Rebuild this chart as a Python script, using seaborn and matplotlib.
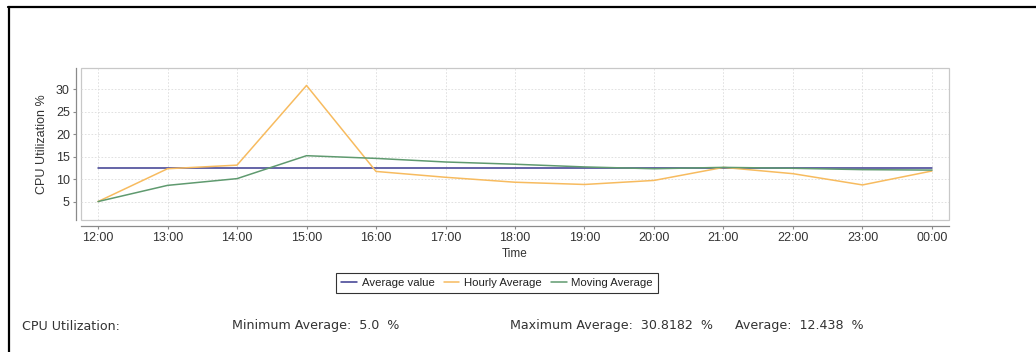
import numpy as np
import pandas as pd
import matplotlib
matplotlib.use("Agg")
import matplotlib.pyplot as plt
from matplotlib.lines import Line2D
from matplotlib.patches import Rectangle
import seaborn as sns

# ---- data ----
times = ["12:00", "13:00", "14:00", "15:00", "16:00", "17:00", "18:00",
         "19:00", "20:00", "21:00", "22:00", "23:00", "00:00"]
hourly_avg = [5.0, 12.3, 13.1, 30.8182, 11.7, 10.4, 9.3, 8.8, 9.7, 12.6, 11.2, 8.7, 11.8]
moving_avg = [5.0, 8.6, 10.1, 15.2, 14.6, 13.8, 13.3, 12.7, 12.3, 12.6, 12.4, 12.1, 12.0]
average_value = [12.438] * len(times)
y_ticks = [5, 10, 15, 20, 25, 30]
series_names = ["Average value", "Hourly Average", "Moving Average"]
colors = {"Average value": "#3b3b8f", "Hourly Average": "#f7bb5f", "Moving Average": "#5f9a6f"}
summary_label = "CPU Utilization:"
summary_min = "Minimum Average:  5.0  %"
summary_max = "Maximum Average:  30.8182  %"
summary_avg = "Average:  12.438  %"

df = pd.DataFrame({
    "x": list(range(len(times))) * 3,
    "value": average_value + hourly_avg + moving_avg,
    "series": [series_names[0]] * len(times) + [series_names[1]] * len(times) + [series_names[2]] * len(times),
})

sns.set_theme(style="white")
plt.rcParams["font.family"] = ["Liberation Sans", "DejaVu Sans"]

W, H = 1036, 352
fig = plt.figure(figsize=(W / 100, H / 100), dpi=100)
fig.patch.set_facecolor("white")

left, right, top, bottom = 81, 949, 68, 220
ax = fig.add_axes([left / W, 1 - bottom / H, (right - left) / W, (bottom - top) / H])

sns.lineplot(data=df, x="x", y="value", hue="series", palette=colors,
             hue_order=series_names, ax=ax, linewidth=1.1, legend=False,
             estimator=None, sort=False)

ax.set_xlim(-0.245, len(times) - 1 + 0.245)
ax.set_ylim(0.9, 34.7)
ax.set_xticks(range(len(times)))
ax.set_xticklabels(times)
ax.set_yticks(y_ticks)

ax.grid(True, color="#dcdcdc", linestyle=(0, (2, 2)), linewidth=0.6)
ax.set_axisbelow(True)

for side in ["top", "right"]:
    ax.spines[side].set_visible(False)
for side in ["left", "bottom"]:
    ax.spines[side].set_color("#8a8a8a")
    ax.spines[side].set_linewidth(0.9)
ax.spines["left"].set_position(("outward", 3.5))
ax.spines["bottom"].set_position(("outward", 4))

ax.add_patch(Rectangle((0, 0), 1, 1, transform=ax.transAxes, fill=False,
                       edgecolor="#c8c8c8", linewidth=0.9, clip_on=False, zorder=0.5))

ax.tick_params(axis="both", which="major", direction="out", length=2.5, width=0.8,
               color="#8a8a8a", labelsize=9, labelcolor="#333333", pad=2,
               left=True, bottom=True)

ax.set_xlabel("Time", fontsize=8.5, color="#333333", labelpad=3)
ax.set_ylabel("CPU Utilization %", fontsize=9, color="#333333", labelpad=6)

# legend
handles = [Line2D([0], [0], color=colors[n], linewidth=1.1) for n in series_names]
leg = fig.legend(handles, series_names, loc="center",
                 bbox_to_anchor=(497 / W, 1 - 283 / H), ncol=3, frameon=True,
                 fancybox=False, edgecolor="black", handlelength=1.4,
                 handletextpad=0.4, columnspacing=0.8, borderpad=0.4,
                 prop={"family": ["Liberation Sans Narrow", "Liberation Sans", "DejaVu Sans"],
                       "size": 8.2, "stretch": "condensed"})
leg.get_frame().set_linewidth(0.8)
for t in leg.get_texts():
    t.set_color("#222222")

# summary texts
txt_kw = dict(fontsize=9.1, color="#333333", va="center", ha="left",
              family=["DejaVu Sans"])
y_txt = 1 - 326 / H
fig.text(22 / W, y_txt, summary_label, **txt_kw)
fig.text(232 / W, y_txt, summary_min, **txt_kw)
fig.text(510 / W, y_txt, summary_max, **txt_kw)
fig.text(735 / W, y_txt, summary_avg, **txt_kw)

# outer frame (top and left edges)
fig.add_artist(Line2D([8 / W, 1.0], [1 - 7 / H, 1 - 7 / H], transform=fig.transFigure,
                      color="black", linewidth=1.6))
fig.add_artist(Line2D([9 / W, 9 / W], [0.0, 1 - 7 / H], transform=fig.transFigure,
                      color="black", linewidth=1.6))

fig.savefig("out.png", dpi=100, facecolor="white")
